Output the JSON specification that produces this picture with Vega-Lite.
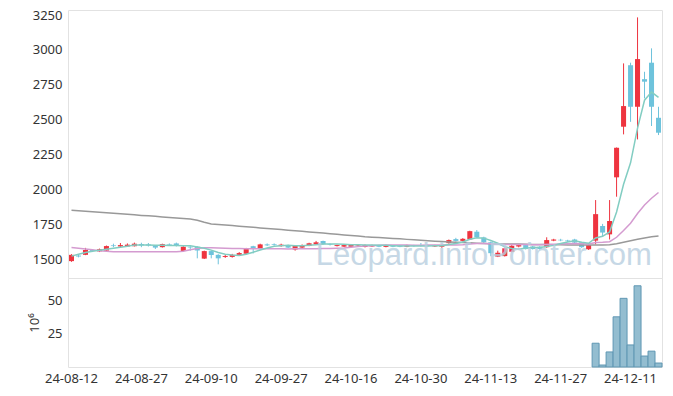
{
  "$schema": "https://vega.github.io/schema/vega-lite/v6.json",
  "padding": {"left": 27, "top": 8, "right": 10, "bottom": 8},
  "spacing": 0,
  "bounds": "flush",
  "background": "white",
  "config": {
    "view": {"stroke": "#e2e2e2"},
    "axis": {"labelFont": "Noto Sans", "labelFontSize": 13, "labelColor": "#333333", "ticks": false, "domain": false, "grid": false, "labelPadding": 6, "labelOverlap": false, "titleFont": "Noto Sans", "titleFontSize": 13, "titleColor": "#333333", "titleFontWeight": "normal"}
  },
  "data": {"values": [
    {"d":"24-08-12","o":1485,"h":1535,"l":1480,"c":1530,"m5":1521,"m20":1582,"m120":1850,"v":0.3},
    {"d":"24-08-13","o":1525,"h":1530,"l":1512,"c":1518,"m5":1534,"m20":1578,"m120":1846,"v":0.2},
    {"d":"24-08-14","o":1530,"h":1580,"l":1528,"c":1565,"m5":1547,"m20":1572,"m120":1843,"v":0.3},
    {"d":"24-08-16","o":1565,"h":1570,"l":1550,"c":1558,"m5":1556,"m20":1566,"m120":1839,"v":0.2},
    {"d":"24-08-19","o":1555,"h":1575,"l":1550,"c":1570,"m5":1563,"m20":1560,"m120":1835,"v":0.2},
    {"d":"24-08-20","o":1560,"h":1597,"l":1558,"c":1593,"m5":1570,"m20":1556,"m120":1832,"v":0.3},
    {"d":"24-08-21","o":1598,"h":1610,"l":1585,"c":1593,"m5":1578,"m20":1553,"m120":1828,"v":0.2},
    {"d":"24-08-22","o":1590,"h":1615,"l":1587,"c":1600,"m5":1585,"m20":1552,"m120":1824,"v":0.2},
    {"d":"24-08-23","o":1590,"h":1612,"l":1588,"c":1603,"m5":1592,"m20":1552,"m120":1821,"v":0.2},
    {"d":"24-08-26","o":1592,"h":1618,"l":1590,"c":1610,"m5":1600,"m20":1552,"m120":1817,"v":0.2},
    {"d":"24-08-27","o":1608,"h":1617,"l":1585,"c":1597,"m5":1601,"m20":1552,"m120":1813,"v":0.2},
    {"d":"24-08-28","o":1605,"h":1615,"l":1590,"c":1597,"m5":1601,"m20":1552,"m120":1810,"v":0.2},
    {"d":"24-08-29","o":1596,"h":1600,"l":1572,"c":1582,"m5":1598,"m20":1552,"m120":1806,"v":0.2},
    {"d":"24-08-30","o":1585,"h":1610,"l":1582,"c":1607,"m5":1599,"m20":1552,"m120":1802,"v":0.2},
    {"d":"24-09-02","o":1607,"h":1612,"l":1598,"c":1603,"m5":1597,"m20":1552,"m120":1798,"v":0.2},
    {"d":"24-09-03","o":1612,"h":1618,"l":1590,"c":1597,"m5":1597,"m20":1552,"m120":1795,"v":0.2},
    {"d":"24-09-04","o":1558,"h":1592,"l":1555,"c":1588,"m5":1595,"m20":1556,"m120":1791,"v":0.2},
    {"d":"24-09-05","o":1588,"h":1592,"l":1560,"c":1583,"m5":1596,"m20":1566,"m120":1787,"v":0.2},
    {"d":"24-09-06","o":1588,"h":1592,"l":1505,"c":1562,"m5":1587,"m20":1575,"m120":1778,"v":0.2},
    {"d":"24-09-09","o":1503,"h":1560,"l":1500,"c":1557,"m5":1577,"m20":1581,"m120":1764,"v":0.3},
    {"d":"24-09-10","o":1557,"h":1562,"l":1505,"c":1529,"m5":1564,"m20":1581,"m120":1752,"v":0.2},
    {"d":"24-09-11","o":1530,"h":1535,"l":1462,"c":1505,"m5":1547,"m20":1580,"m120":1748,"v":0.3},
    {"d":"24-09-12","o":1515,"h":1530,"l":1508,"c":1522,"m5":1535,"m20":1578,"m120":1744,"v":0.2},
    {"d":"24-09-13","o":1515,"h":1537,"l":1510,"c":1530,"m5":1529,"m20":1576,"m120":1740,"v":0.2},
    {"d":"24-09-19","o":1530,"h":1550,"l":1527,"c":1543,"m5":1526,"m20":1575,"m120":1736,"v":0.2},
    {"d":"24-09-20","o":1538,"h":1580,"l":1535,"c":1577,"m5":1535,"m20":1574,"m120":1732,"v":0.3},
    {"d":"24-09-23","o":1592,"h":1595,"l":1540,"c":1572,"m5":1549,"m20":1573,"m120":1728,"v":0.2},
    {"d":"24-09-24","o":1572,"h":1610,"l":1570,"c":1605,"m5":1565,"m20":1573,"m120":1723,"v":0.2},
    {"d":"24-09-25","o":1605,"h":1612,"l":1593,"c":1598,"m5":1579,"m20":1573,"m120":1719,"v":0.2},
    {"d":"24-09-26","o":1606,"h":1612,"l":1596,"c":1601,"m5":1591,"m20":1573,"m120":1715,"v":0.2},
    {"d":"24-09-27","o":1593,"h":1610,"l":1588,"c":1603,"m5":1596,"m20":1573,"m120":1711,"v":0.2},
    {"d":"24-09-30","o":1600,"h":1603,"l":1578,"c":1582,"m5":1598,"m20":1572,"m120":1707,"v":0.2},
    {"d":"24-10-02","o":1568,"h":1598,"l":1560,"c":1595,"m5":1596,"m20":1573,"m120":1703,"v":0.2},
    {"d":"24-10-04","o":1582,"h":1605,"l":1578,"c":1600,"m5":1596,"m20":1573,"m120":1699,"v":0.2},
    {"d":"24-10-07","o":1595,"h":1617,"l":1592,"c":1613,"m5":1599,"m20":1573,"m120":1694,"v":0.2},
    {"d":"24-10-08","o":1605,"h":1630,"l":1603,"c":1620,"m5":1602,"m20":1574,"m120":1690,"v":0.2},
    {"d":"24-10-10","o":1629,"h":1632,"l":1603,"c":1606,"m5":1607,"m20":1575,"m120":1686,"v":0.2},
    {"d":"24-10-11","o":1607,"h":1612,"l":1597,"c":1603,"m5":1608,"m20":1576,"m120":1682,"v":0.2},
    {"d":"24-10-14","o":1593,"h":1603,"l":1590,"c":1600,"m5":1608,"m20":1578,"m120":1677,"v":0.2},
    {"d":"24-10-15","o":1589,"h":1603,"l":1586,"c":1600,"m5":1606,"m20":1580,"m120":1673,"v":0.2},
    {"d":"24-10-16","o":1588,"h":1608,"l":1585,"c":1605,"m5":1603,"m20":1584,"m120":1669,"v":0.2},
    {"d":"24-10-17","o":1597,"h":1606,"l":1594,"c":1601,"m5":1602,"m20":1589,"m120":1665,"v":0.2},
    {"d":"24-10-18","o":1587,"h":1605,"l":1583,"c":1600,"m5":1601,"m20":1593,"m120":1660,"v":0.2},
    {"d":"24-10-21","o":1590,"h":1603,"l":1587,"c":1600,"m5":1601,"m20":1596,"m120":1657,"v":0.2},
    {"d":"24-10-22","o":1598,"h":1602,"l":1585,"c":1588,"m5":1599,"m20":1598,"m120":1654,"v":0.2},
    {"d":"24-10-23","o":1587,"h":1603,"l":1584,"c":1600,"m5":1598,"m20":1600,"m120":1651,"v":0.2},
    {"d":"24-10-24","o":1598,"h":1601,"l":1585,"c":1588,"m5":1595,"m20":1600,"m120":1648,"v":0.2},
    {"d":"24-10-25","o":1597,"h":1600,"l":1585,"c":1588,"m5":1593,"m20":1600,"m120":1645,"v":0.2},
    {"d":"24-10-28","o":1588,"h":1603,"l":1585,"c":1600,"m5":1593,"m20":1600,"m120":1641,"v":0.2},
    {"d":"24-10-29","o":1597,"h":1602,"l":1588,"c":1593,"m5":1594,"m20":1599,"m120":1638,"v":0.2},
    {"d":"24-10-30","o":1600,"h":1615,"l":1590,"c":1596,"m5":1593,"m20":1599,"m120":1635,"v":0.2},
    {"d":"24-10-31","o":1598,"h":1602,"l":1590,"c":1594,"m5":1594,"m20":1600,"m120":1632,"v":0.2},
    {"d":"24-11-01","o":1590,"h":1602,"l":1587,"c":1598,"m5":1596,"m20":1600,"m120":1628,"v":0.2},
    {"d":"24-11-04","o":1588,"h":1603,"l":1580,"c":1600,"m5":1596,"m20":1600,"m120":1625,"v":0.2},
    {"d":"24-11-05","o":1614,"h":1640,"l":1610,"c":1636,"m5":1605,"m20":1601,"m120":1622,"v":0.3},
    {"d":"24-11-06","o":1643,"h":1652,"l":1625,"c":1630,"m5":1612,"m20":1601,"m120":1620,"v":0.3},
    {"d":"24-11-07","o":1630,"h":1650,"l":1625,"c":1645,"m5":1622,"m20":1603,"m120":1618,"v":0.3},
    {"d":"24-11-08","o":1641,"h":1703,"l":1638,"c":1700,"m5":1642,"m20":1608,"m120":1616,"v":0.5},
    {"d":"24-11-11","o":1696,"h":1708,"l":1652,"c":1656,"m5":1653,"m20":1611,"m120":1614,"v":0.4},
    {"d":"24-11-12","o":1655,"h":1660,"l":1615,"c":1620,"m5":1650,"m20":1612,"m120":1612,"v":0.3},
    {"d":"24-11-13","o":1620,"h":1625,"l":1520,"c":1542,"m5":1633,"m20":1609,"m120":1610,"v":0.4},
    {"d":"24-11-14","o":1517,"h":1560,"l":1514,"c":1545,"m5":1613,"m20":1606,"m120":1609,"v":0.3},
    {"d":"24-11-15","o":1521,"h":1582,"l":1518,"c":1577,"m5":1588,"m20":1605,"m120":1608,"v":0.3},
    {"d":"24-11-18","o":1552,"h":1600,"l":1548,"c":1595,"m5":1576,"m20":1605,"m120":1608,"v":0.3},
    {"d":"24-11-19","o":1590,"h":1603,"l":1584,"c":1600,"m5":1572,"m20":1605,"m120":1607,"v":0.2},
    {"d":"24-11-20","o":1600,"h":1603,"l":1568,"c":1572,"m5":1578,"m20":1604,"m120":1606,"v":0.2},
    {"d":"24-11-21","o":1590,"h":1594,"l":1568,"c":1572,"m5":1583,"m20":1603,"m120":1605,"v":0.2},
    {"d":"24-11-22","o":1588,"h":1592,"l":1568,"c":1572,"m5":1582,"m20":1602,"m120":1604,"v":0.2},
    {"d":"24-11-25","o":1585,"h":1656,"l":1580,"c":1636,"m5":1590,"m20":1604,"m120":1604,"v":0.4},
    {"d":"24-11-26","o":1632,"h":1645,"l":1628,"c":1640,"m5":1598,"m20":1606,"m120":1603,"v":0.2},
    {"d":"24-11-27","o":1638,"h":1645,"l":1628,"c":1634,"m5":1611,"m20":1608,"m120":1602,"v":0.2},
    {"d":"24-11-28","o":1633,"h":1638,"l":1622,"c":1628,"m5":1622,"m20":1610,"m120":1601,"v":0.2},
    {"d":"24-11-29","o":1640,"h":1645,"l":1612,"c":1618,"m5":1631,"m20":1611,"m120":1601,"v":0.2},
    {"d":"24-12-02","o":1620,"h":1623,"l":1580,"c":1585,"m5":1621,"m20":1610,"m120":1600,"v":0.3},
    {"d":"24-12-03","o":1570,"h":1603,"l":1565,"c":1600,"m5":1613,"m20":1608,"m120":1600,"v":0.3},
    {"d":"24-12-04","o":1632,"h":1923,"l":1605,"c":1822,"m5":1651,"m20":1618,"m120":1600,"v":18},
    {"d":"24-12-05","o":1737,"h":1752,"l":1665,"c":1690,"m5":1663,"m20":1620,"m120":1601,"v":1.5},
    {"d":"24-12-06","o":1677,"h":1923,"l":1640,"c":1773,"m5":1694,"m20":1624,"m120":1603,"v":11.4},
    {"d":"24-12-09","o":2086,"h":2300,"l":1947,"c":2298,"m5":1837,"m20":1656,"m120":1610,"v":38},
    {"d":"24-12-10","o":2449,"h":2903,"l":2394,"c":2597,"m5":2036,"m20":1705,"m120":1620,"v":52},
    {"d":"24-12-11","o":2890,"h":2908,"l":2484,"c":2592,"m5":2190,"m20":1757,"m120":1631,"v":16.7},
    {"d":"24-12-12","o":2592,"h":3233,"l":2358,"c":2934,"m5":2439,"m20":1827,"m120":1642,"v":61.5},
    {"d":"24-12-13","o":2790,"h":2843,"l":2652,"c":2772,"m5":2639,"m20":1887,"m120":1651,"v":8.3},
    {"d":"24-12-16","o":2908,"h":3011,"l":2454,"c":2592,"m5":2697,"m20":1936,"m120":1659,"v":12},
    {"d":"24-12-17","o":2513,"h":2592,"l":2389,"c":2406,"m5":2659,"m20":1977,"m120":1665,"v":3}
  ]},
  "vconcat": [
    {
      "width": 594,
      "height": 268,
      "encoding": {
        "x": {"field": "d", "type": "ordinal", "sort": "ascending", "scale": {"paddingInner": 0, "paddingOuter": 0}, "axis": null}
      },
      "layer": [
        {
          "mark": {"type": "rule", "strokeWidth": 1},
          "encoding": {
            "y": {"field": "l", "type": "quantitative", "scale": {"domain": [1364, 3286], "nice": false, "zero": false}, "axis": {"values": [1500, 1750, 2000, 2250, 2500, 2750, 3000, 3250], "format": "d", "labelOverlap": false, "title": null, "minExtent": 40, "maxExtent": 40}},
            "y2": {"field": "h"},
            "color": {"condition": {"test": "datum.c >= datum.o", "value": "#ee343f"}, "value": "#6ec3dc"}
          }
        },
        {
          "mark": {"type": "bar", "width": {"band": 0.72}},
          "encoding": {
            "y": {"field": "o", "type": "quantitative", "axis": {"values": [1500, 1750, 2000, 2250, 2500, 2750, 3000, 3250], "format": "d", "labelOverlap": false, "title": null, "minExtent": 40, "maxExtent": 40}},
            "y2": {"field": "c"},
            "color": {"condition": {"test": "datum.c >= datum.o", "value": "#ee343f"}, "value": "#6ec3dc"}
          }
        },
        {
          "mark": {"type": "line", "color": "#999999", "strokeWidth": 1.5},
          "encoding": {"y": {"field": "m120", "type": "quantitative", "axis": {"values": [1500, 1750, 2000, 2250, 2500, 2750, 3000, 3250], "format": "d", "labelOverlap": false, "title": null, "minExtent": 40, "maxExtent": 40}}}
        },
        {
          "mark": {"type": "line", "color": "#d49bd0", "strokeWidth": 1.5},
          "encoding": {"y": {"field": "m20", "type": "quantitative", "axis": {"values": [1500, 1750, 2000, 2250, 2500, 2750, 3000, 3250], "format": "d", "labelOverlap": false, "title": null, "minExtent": 40, "maxExtent": 40}}}
        },
        {
          "mark": {"type": "line", "color": "#82cdc2", "strokeWidth": 1.5},
          "encoding": {"y": {"field": "m5", "type": "quantitative", "axis": {"values": [1500, 1750, 2000, 2250, 2500, 2750, 3000, 3250], "format": "d", "labelOverlap": false, "title": null, "minExtent": 40, "maxExtent": 40}}}
        },
        {
          "data": {"values": [{"label": "Leopard.infoPointer.com"}]},
          "mark": {"type": "text", "font": "Liberation Sans", "fontSize": 31, "color": "#b9cfe0", "opacity": 0.8, "align": "center", "baseline": "alphabetic"},
          "encoding": {
            "x": {"datum": "24-11-12"},
            "y": {"datum": 1457, "axis": {"values": [1500, 1750, 2000, 2250, 2500, 2750, 3000, 3250], "format": "d", "labelOverlap": false, "title": null, "minExtent": 40, "maxExtent": 40}},
            "text": {"field": "label"}
          }
        }
      ]
    },
    {
      "width": 594,
      "height": 89,
      "mark": {"type": "bar", "width": {"band": 1}, "fill": "#93bdd0", "stroke": "#5f97b3", "strokeWidth": 1},
      "encoding": {
        "x": {"field": "d", "type": "ordinal", "sort": "ascending", "scale": {"paddingInner": 0, "paddingOuter": 0}, "axis": {"values": ["24-08-12", "24-08-27", "24-09-10", "24-09-27", "24-10-16", "24-10-30", "24-11-13", "24-11-27", "24-12-11"], "labelAngle": 0, "labelPadding": 5, "title": null}},
        "y": {"field": "v", "type": "quantitative", "scale": {"domain": [0, 67.4], "nice": false}, "axis": {"values": [25, 50], "title": "10⁶", "titlePadding": 6, "minExtent": 21, "maxExtent": 21}},
        "opacity": {"condition": {"test": "datum.v < 1", "value": 0}, "value": 1}
      }
    }
  ]
}
